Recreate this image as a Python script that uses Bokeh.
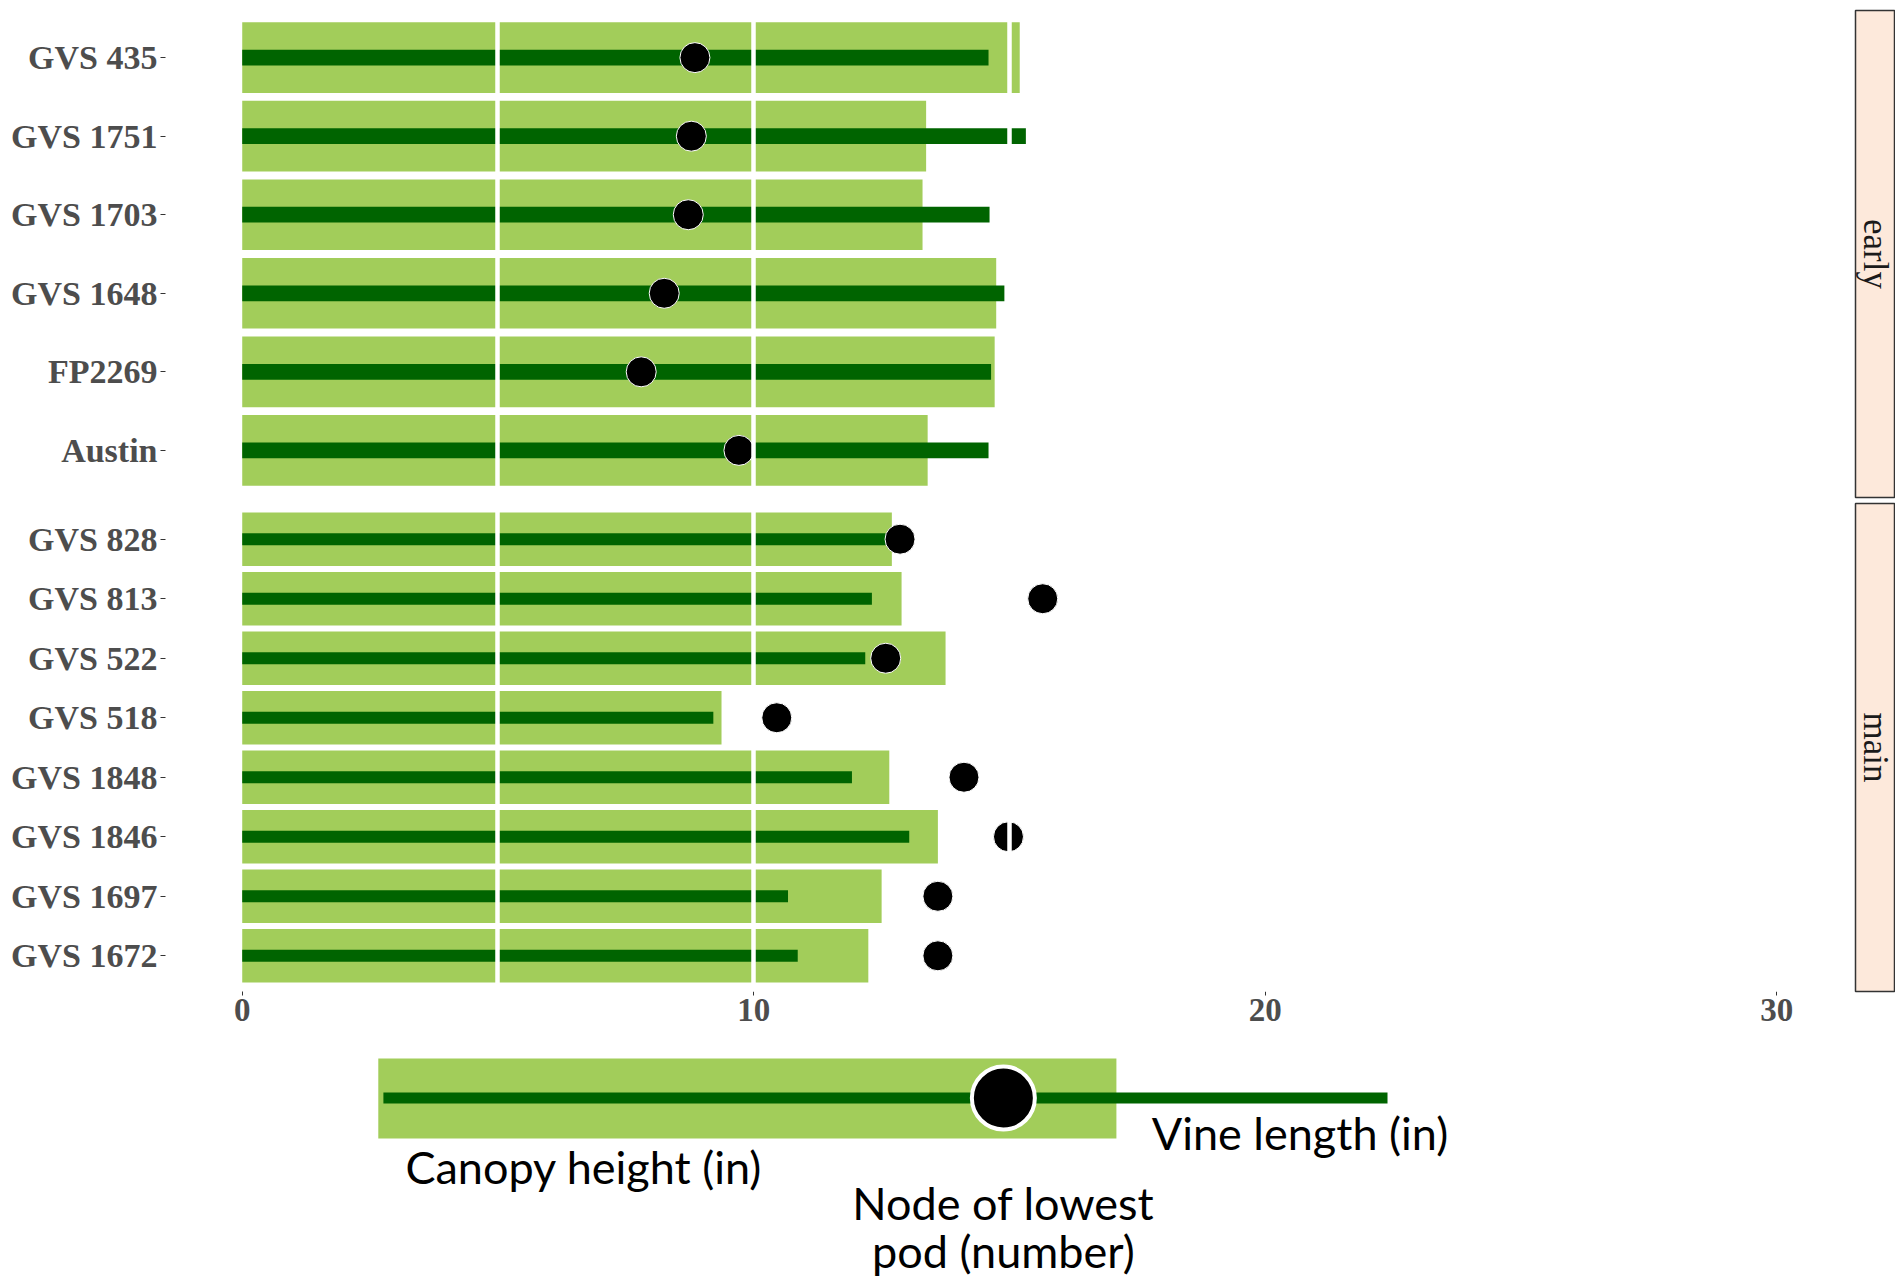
import numpy as np
from bokeh.plotting import figure
from bokeh.models import ColumnDataSource, FactorRange, Range1d, FixedTicker, Grid, Label
from bokeh.layouts import column, row
from bokeh.embed import file_html
from bokeh.resources import INLINE
from bokeh.core.properties import value

# ---------------- data ----------------
early_cultivars = ["GVS 435", "GVS 1751", "GVS 1703", "GVS 1648", "FP2269", "Austin"]
early_canopy = [15.2, 13.37, 13.3, 14.74, 14.71, 13.4]      # canopy height (in)
early_vine = [14.59, 15.32, 14.61, 14.9, 14.64, 14.59]      # vine length (in)
early_node = [8.85, 8.78, 8.72, 8.25, 7.8, 9.71]            # node of lowest pod

main_cultivars = ["GVS 828", "GVS 813", "GVS 522", "GVS 518",
                  "GVS 1848", "GVS 1846", "GVS 1697", "GVS 1672"]
main_canopy = [12.7, 12.89, 13.75, 9.37, 12.65, 13.6, 12.5, 12.24]
main_vine = [12.6, 12.31, 12.18, 9.21, 11.92, 13.04, 10.67, 10.86]
main_node = [12.86, 15.65, 12.58, 10.45, 14.11, 14.98, 13.6, 13.6]

groups = ["early", "main"]
x_ticks = [0, 10, 20, 30]
grid_ticks = [5, 10, 15, 20, 25, 30]

# schematic legend sample (in the x units of the chart)
legend_start = 2.66
legend_vine_start = 2.76
legend_canopy = 17.09
legend_vine = 22.39
legend_node = 14.88
legend_labels = ["Vine length (in)", "Canopy height (in)", "Node of lowest", "pod (number)"]

# ---------------- style ----------------
LIGHT = "#A2CD5A"
DARK = "#006400"
STRIP = "#FDE9DB"
SERIF = "Liberation Serif"
TXT = "#4D4D4D"
PANEL_W = 1853
LEFT = 165


def make_panel(cats, canopy, vine, node, height, top, bottom, show_x):
    src = ColumnDataSource(dict(cultivar=cats, canopy=canopy, vine=vine, node=node))
    yr = FactorRange(factors=list(reversed(cats)), range_padding=0.1,
                     range_padding_units="absolute")
    p = figure(width=PANEL_W, height=height, y_range=yr, x_range=Range1d(-1.5, 31.5),
               output_backend="svg", toolbar_location=None,
               min_border_left=LEFT, min_border_right=0,
               min_border_top=top, min_border_bottom=bottom,
               x_axis_location="below" if show_x else None)
    p.outline_line_color = None
    p.background_fill_color = "white"
    for g in p.xgrid + p.ygrid:
        g.visible = False
    p.hbar(y="cultivar", left=0, right="canopy", height=0.9, source=src,
           fill_color=LIGHT, line_color=None)
    p.hbar(y="cultivar", left=0, right="vine", height=0.2, source=src,
           fill_color=DARK, line_color=None)
    p.scatter(x="node", y="cultivar", size=30, source=src,
              fill_color="black", line_color="white", line_width=1)
    p.add_layout(Grid(dimension=0, ticker=FixedTicker(ticks=grid_ticks),
                      grid_line_color="white", grid_line_width=4.5, level="overlay"))

    ya = p.yaxis[0]
    ya.axis_line_color = None
    ya.major_tick_out = 5
    ya.major_tick_in = 0
    ya.major_tick_line_color = "#333333"
    ya.major_label_standoff = 3
    ya.major_label_text_font = SERIF
    ya.major_label_text_font_style = "bold"
    ya.major_label_text_font_size = "34px"
    ya.major_label_text_color = TXT

    if show_x:
        xa = p.xaxis[0]
        xa.ticker = FixedTicker(ticks=x_ticks)
        xa.axis_line_color = None
        xa.minor_tick_line_color = None
        xa.major_tick_out = 4
        xa.major_tick_in = 0
        xa.major_tick_line_color = "#333333"
        xa.major_label_standoff = 3
        xa.major_label_text_font = SERIF
        xa.major_label_text_font_style = "bold"
        xa.major_label_text_font_size = "33px"
        xa.major_label_text_color = TXT
    return p


def make_strip(label, height, top, bottom):
    s = figure(width=42, height=height, x_range=Range1d(0, 1), y_range=Range1d(0, 1),
               output_backend="svg", toolbar_location=None,
               min_border_left=2, min_border_right=1,
               min_border_top=top, min_border_bottom=bottom,
               x_axis_location=None, y_axis_location=None)
    s.background_fill_color = STRIP
    s.outline_line_color = "#333333"
    s.outline_line_width = 1.5
    for g in s.xgrid + s.ygrid:
        g.visible = False
    s.add_layout(Label(x=0.5, y=0.5, text=label, angle=-np.pi / 2,
                       text_align="center", text_baseline="middle",
                       text_font=SERIF, text_font_size="35px", text_color="#1A1A1A"))
    return s


p_early = make_panel(early_cultivars, early_canopy, early_vine, early_node, 500, 10, 3, False)
s_early = make_strip(groups[0], 500, 10, 3)
p_main = make_panel(main_cultivars, main_canopy, main_vine, main_node, 540, 3, 49, True)
s_main = make_strip(groups[1], 540, 3, 49)

# ---------------- schematic legend ----------------
leg = figure(width=PANEL_W, height=242, x_range=Range1d(-1.5, 31.5),
             y_range=Range1d(1282, 1040), output_backend="svg", toolbar_location=None,
             min_border_left=LEFT, min_border_right=0, min_border_top=0, min_border_bottom=0,
             x_axis_location=None, y_axis_location=None)
leg.outline_line_color = None
for g in leg.xgrid + leg.ygrid:
    g.visible = False
leg.quad(left=[legend_start], right=[legend_canopy], top=[1058], bottom=[1138],
         fill_color=LIGHT, line_color=None)
leg.segment(x0=[legend_vine_start], x1=[legend_vine], y0=[1097.5], y1=[1097.5],
            line_color=DARK, line_width=11, line_cap="butt")
leg.scatter(x=[legend_node], y=[1097.5], size=63, fill_color="black",
            line_color="white", line_width=4)
FS = value("45px")
leg.text(x=[17.78], y=[1132], text=[legend_labels[0]], text_align="left",
         text_baseline="alphabetic", text_font=value("Lato"),
         text_font_size=FS, text_color="black")
leg.text(x=[3.19], y=[1166], text=[legend_labels[1]], text_align="left",
         text_baseline="alphabetic", text_font=value("Lato"),
         text_font_size=FS, text_color="black")
leg.text(x=[legend_node, legend_node], y=[1202, 1250], text=legend_labels[2:],
         text_align="center", text_baseline="alphabetic", text_font=value("Lato"),
         text_font_size=FS, text_color="black")

layout = column(row(p_early, s_early), row(p_main, s_main), leg)
open("out.html", "w").write(file_html(layout, INLINE))
